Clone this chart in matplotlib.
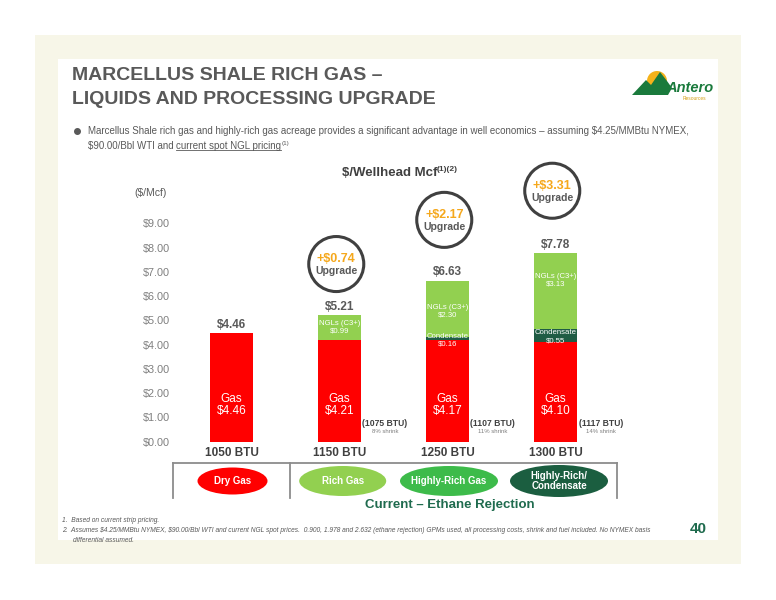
import matplotlib
matplotlib.use('Agg')
import matplotlib.pyplot as plt
from matplotlib.patches import Rectangle, Ellipse, Polygon, Circle
import numpy as np

plt.rcParams['font.family'] = ['Liberation Sans', 'DejaVu Sans']
plt.rcParams['text.parse_math'] = False

# ---- data ----
btu_labels = ['1050 BTU', '1150 BTU', '1250 BTU', '1300 BTU']
gas = [4.46, 4.21, 4.17, 4.10]
condensate = [0.0, 0.0, 0.16, 0.55]
ngls = [0.0, 0.99, 2.30, 3.13]
totals = [4.46, 5.21, 6.63, 7.78]
upgrades = [None, 0.74, 2.17, 3.31]
processed_btu = [None, 1075, 1107, 1117]
shrink_pct = [None, 8, 11, 14]
gas_types = ['Dry Gas', 'Rich Gas', 'Highly-Rich Gas', 'Highly-Rich/\nCondensate']
yticks = np.arange(0, 10)

# ---- layout / style ----
RED = '#ff0000'
NGL_GREEN = '#92d050'
COND_GREEN = '#1f5c44'
type_colors = ['#ff0000', '#92d050', '#3dbb4a', '#1b5e40']
GREY = '#595959'
DARK = '#404040'
ngl_label_y = [None, 4.73, 5.39, 6.64]
cond_label_y = [None, None, 4.18, 4.32]
circle_offset = [None, 2.11, 2.51, 2.56]
bar_w = 0.40

fig = plt.figure(figsize=(7.76, 6), dpi=100)

# page layer in pixel coordinates
page = fig.add_axes([0, 0, 1, 1])
page.set_xlim(0, 776)
page.set_ylim(600, 0)
page.axis('off')
page.add_patch(Rectangle((35, 35), 706, 529, color='#f7f6e8', lw=0))
page.add_patch(Rectangle((58, 59), 660, 481, color='white', lw=0))

# title
page.text(72, 76, 'MARCELLUS SHALE RICH GAS \u2013', fontsize=14, fontweight='bold',
          color=GREY, va='center', ha='left')
page.text(72, 99, 'LIQUIDS AND PROCESSING UPGRADE', fontsize=14, fontweight='bold',
          color=GREY, va='center', ha='left')

# logo
page.add_patch(Circle((657, 81), 10, color='#f5b21a', lw=0))
page.add_patch(Polygon([(632, 95), (646, 80), (651, 85), (660, 72), (667, 81),
                        (672, 88), (668, 95)], closed=True, color='#1a7a3c', lw=0))
page.text(666, 88, 'Antero', fontsize=10.5, fontweight='bold', fontstyle='italic',
          color='#1a7a3c', va='center', ha='left')
page.text(694, 99, 'Resources', fontsize=3.5, color='#d4a017', va='center', ha='center')

# bullet
page.plot(77, 131, 'o', color=GREY, ms=4)
page.text(88, 131, 'Marcellus Shale rich gas and highly-rich gas acreage provides a significant '
          'advantage in well economics \u2013 assuming $4.25/MMBtu NYMEX,',
          fontsize=7, color=GREY, va='center', ha='left')
b1 = page.text(88, 146, '$90.00/Bbl WTI and ', fontsize=7, color=GREY, va='center', ha='left')
b2 = page.annotate('current spot NGL pricing', xy=(1, 0), xycoords=b1, fontsize=7,
                   color=GREY, va='bottom', ha='left')
page.annotate('(1)', xy=(1, 0.55), xycoords=b2, fontsize=4.5, color=GREY,
              va='bottom', ha='left')

# chart header
w1 = page.text(437, 173, '$/Wellhead Mcf', fontsize=9.5, fontweight='bold', color=DARK,
               va='center', ha='right')
page.annotate('(1)(2)', xy=(1, 0.5), xycoords=w1, fontsize=6, fontweight='bold',
              color=DARK, va='bottom', ha='left')
page.text(151, 193, '($/Mcf)', fontsize=7.5, color=GREY, va='center', ha='center')

# bar chart
ax = fig.add_axes([180 / 776, (600 - 441.7) / 600, 500 / 776, 242.7 / 600])
ax.patch.set_alpha(0)
x = np.arange(len(gas))
gas_a = np.array(gas)
cond_a = np.array(condensate)
ax.bar(x, gas, bar_w, color=RED, lw=0)
ax.bar(x, condensate, bar_w, bottom=gas_a, color=COND_GREEN, lw=0)
ax.bar(x, ngls, bar_w, bottom=gas_a + cond_a, color=NGL_GREEN, lw=0)
ax.set_xlim(-0.477, 4.153)
ax.set_ylim(0, 10)
for s in ax.spines.values():
    s.set_visible(False)
ax.tick_params(length=0)
ax.set_yticks(yticks)
ax.set_yticklabels(['$%.2f' % v for v in yticks], fontsize=7.8, color='#7f7f7f')
ax.tick_params(axis='y', pad=7)
ax.set_xticks(x)
ax.set_xticklabels(btu_labels, fontsize=8.5, fontweight='bold', color=DARK)
ax.tick_params(axis='x', pad=4)

for i in x:
    ax.annotate('$%.2f' % totals[i], (i, totals[i]), xytext=(0, 6), textcoords='offset points',
                ha='center', va='center', fontsize=8.5, fontweight='bold', color=GREY)
    ax.text(i, 1.53, 'Gas\n$%.2f' % gas[i], ha='center', va='center', fontsize=8.5,
            color='white', linespacing=1.0)
    if ngls[i] > 0:
        ax.text(i, ngl_label_y[i], 'NGLs (C3+)\n$%.2f' % ngls[i], ha='center', va='center',
                fontsize=5.6, color='white', linespacing=1.15)
    if condensate[i] > 0:
        ax.text(i, cond_label_y[i], 'Condensate\n$%.2f' % condensate[i], ha='center',
                va='center', fontsize=5.6, color='white', linespacing=1.15)
    if upgrades[i] is not None:
        cy = totals[i] + circle_offset[i]
        ax.scatter([i - 0.03], [cy], s=1570, facecolors='none', edgecolors=DARK,
                   linewidths=2.2, clip_on=False, zorder=5)
        ax.annotate('+$%.2f' % upgrades[i], (i - 0.03, cy), xytext=(0, 3.5),
                    textcoords='offset points', ha='center', va='center', fontsize=9,
                    fontweight='bold', color='#f5a81c', annotation_clip=False)
        ax.annotate('Upgrade', (i - 0.03, cy), xytext=(0, -5), textcoords='offset points',
                    ha='center', va='center', fontsize=7.5, fontweight='bold', color=GREY,
                    annotation_clip=False)
    if processed_btu[i] is not None:
        ax.text(i + 0.42, 0.77, '(%d BTU)' % processed_btu[i], ha='center', va='center',
                fontsize=6.2, fontweight='bold', color=DARK)
        ax.text(i + 0.42, 0.41, '%d%% shrink' % shrink_pct[i], ha='center', va='center',
                fontsize=4.3, color='#7f7f7f')

# category bracket and ellipses
page.plot([173, 617], [462.7, 462.7], color='#8c8c8c', lw=1.3)
for xv in [173, 289.5, 617]:
    page.plot([xv, xv], [462.7, 498], color='#8c8c8c', lw=1.3)
ell_x = [232.5, 342.7, 449, 559]
ell_w = [70, 87, 98, 98]
ell_h = [27, 30, 30, 32]
for k in range(len(gas_types)):
    page.add_patch(Ellipse((ell_x[k], 481), ell_w[k], ell_h[k], color=type_colors[k], lw=0))
    page.text(ell_x[k], 481, gas_types[k], fontsize=7, fontweight='bold', color='white',
              ha='center', va='center', linespacing=1.0)
page.text(450, 505, 'Current \u2013 Ethane Rejection', fontsize=9.5, fontweight='bold',
          color='#1f6b4e', ha='center', va='center')

# footnotes
page.text(62, 521, '1.  Based on current strip pricing.', fontsize=4.8, fontstyle='italic',
          color=GREY, va='center')
page.text(62, 531, '2.  Assumes $4.25/MMBtu NYMEX, $90.00/Bbl WTI and current NGL spot prices.  '
          '0.900, 1.978 and 2.632 (ethane rejection) GPMs used, all processing costs, shrink '
          'and fuel included. No NYMEX basis', fontsize=4.8, fontstyle='italic', color=GREY,
          va='center')
page.text(73, 541, 'differential assumed.', fontsize=4.8, fontstyle='italic', color=GREY,
          va='center')
page.text(698, 529, '40', fontsize=11, fontweight='bold', color='#1f6b4e',
          ha='center', va='center')

# underline for the linked phrase
fig.canvas.draw()
bb = b2.get_window_extent()
inv = page.transData.inverted()
(ux0, uy0), (ux1, _) = inv.transform([(bb.x0, bb.y0 + 1.5), (bb.x1, bb.y0 + 1.5)])
page.plot([ux0, ux1], [uy0, uy0], color=GREY, lw=0.6)

fig.savefig('out.png', dpi=100)
